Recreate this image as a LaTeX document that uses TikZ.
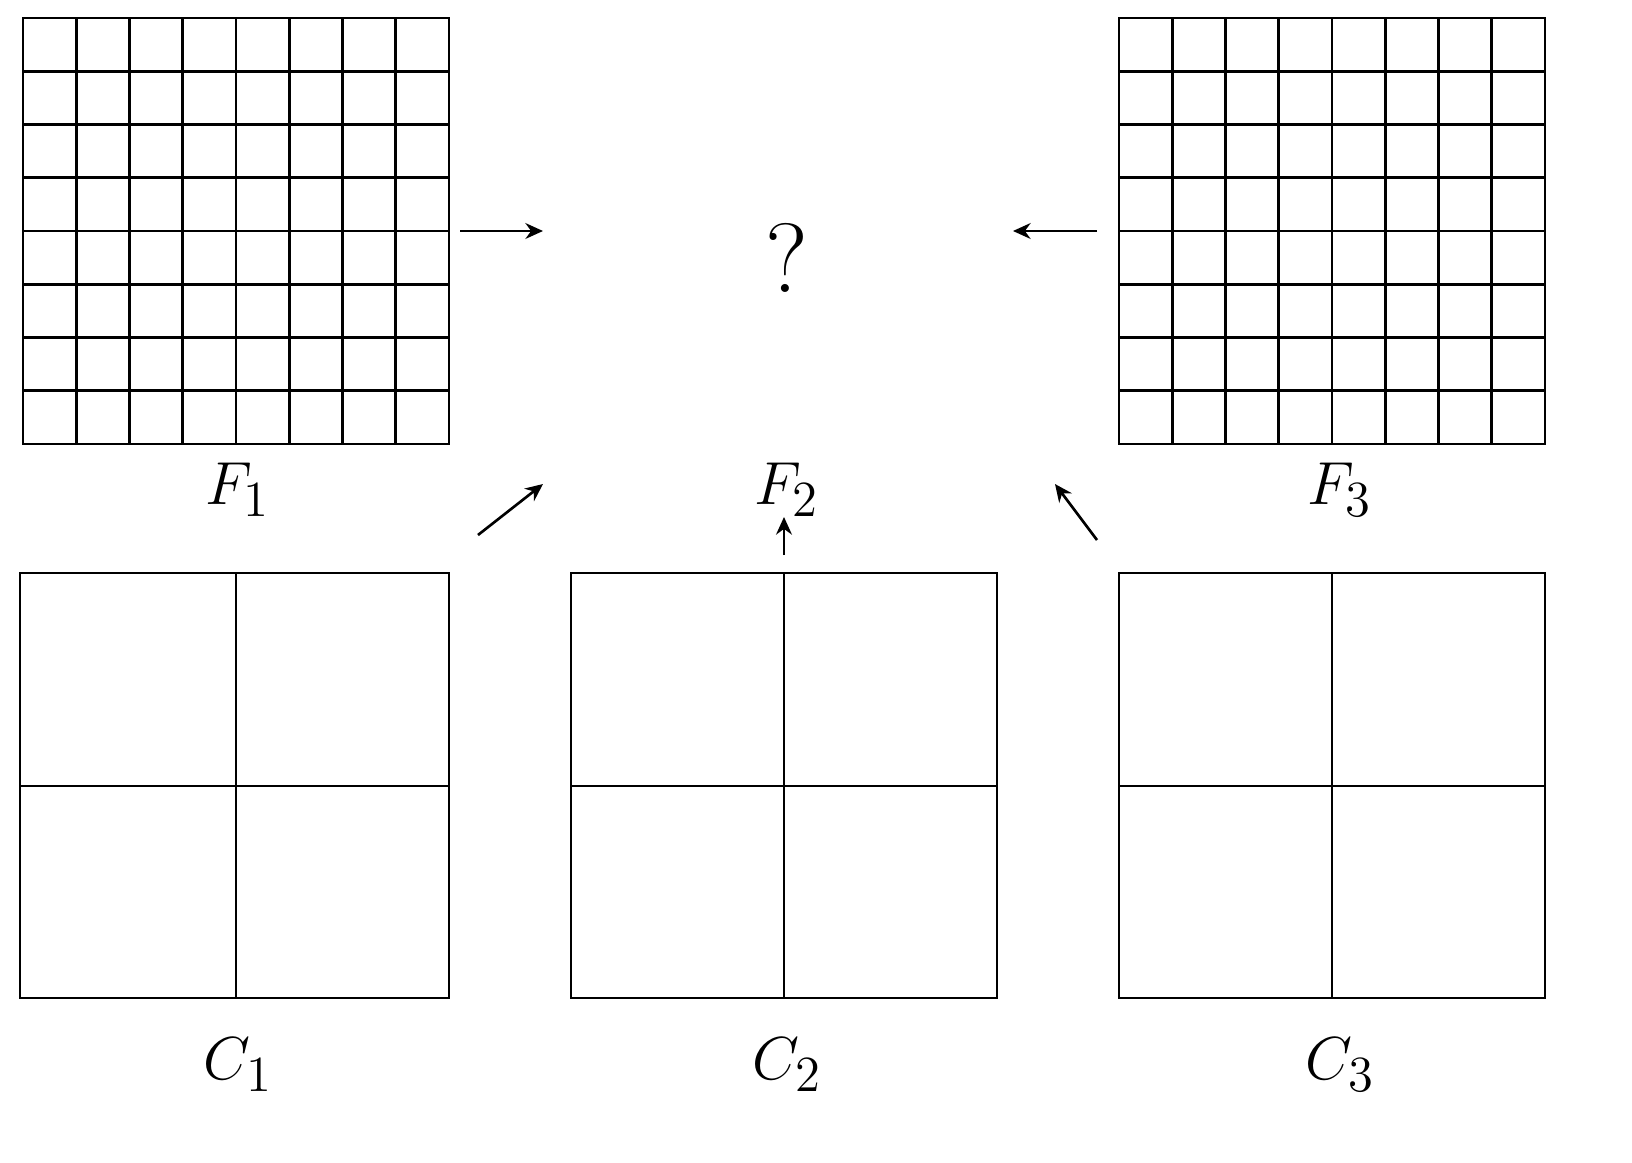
\documentclass[tikz,border=0pt]{standalone}
\usetikzlibrary{arrows.meta}
\begin{document}
\begin{tikzpicture}[x=0.01cm,y=-0.01cm,
  gridline/.style={line width=0.75pt,black},
  arr/.style={line width=0.75pt,-{Stealth[length=5pt,width=4.5pt]}},
  lab/.style={font=\fontsize{19}{22}\selectfont}]
\useasboundingbox (0,0) rectangle (1632,1163);
% fine grids
\foreach \ox in {23,1119}{
  \draw[gridline] (\ox,18) rectangle ({\ox+426},444);
  \foreach \i in {1,...,7}{
    \draw[gridline] ({\ox+\i*53.25},18) -- ({\ox+\i*53.25},444);
    \draw[gridline] (\ox,{18+\i*53.25}) -- ({\ox+426},{18+\i*53.25});
  }
}
% coarse grids
\draw[gridline] (20,573) rectangle (449,998) (236,573) -- (236,998) (20,786) -- (449,786);
\draw[gridline] (571,573) rectangle (997,998) (784,573) -- (784,998) (571,786) -- (997,786);
\draw[gridline] (1119,573) rectangle (1545,998) (1332,573) -- (1332,998) (1119,786) -- (1545,786);
% labels
\node[lab] (lF1) at (238,490) {$F_1$};
\node[lab] (lF2) at (787,490) {$F_2$};
\node[lab] (lF3) at (1340,490) {$F_3$};
\node[lab] (lC1) at (238,1065) {$C_1$};
\node[lab] (lC2) at (787,1065) {$C_2$};
\node[lab] (lC3) at (1340,1065) {$C_3$};
\node[font=\fontsize{28}{32}\selectfont] (q) at (787,258) {?};
% arrows
\coordinate (a1s) at (460,231); \coordinate (a1e) at (543,231);
\coordinate (a2s) at (1097,231); \coordinate (a2e) at (1013,231);
\coordinate (a3s) at (478,535); \coordinate (a3e) at (543,484);
\coordinate (a4s) at (784,555); \coordinate (a4e) at (784,517);
\coordinate (a5s) at (1097,540); \coordinate (a5e) at (1055,484);
\draw[arr] (a1s) -- (a1e);
\draw[arr] (a2s) -- (a2e);
\draw[arr] (a3s) -- (a3e);
\draw[arr] (a4s) -- (a4e);
\draw[arr] (a5s) -- (a5e);
\end{tikzpicture}
\end{document}
